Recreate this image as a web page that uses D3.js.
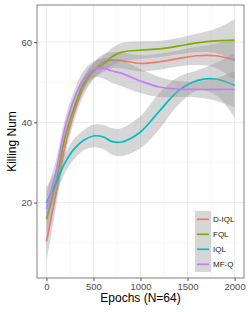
<!DOCTYPE html>
<meta charset="utf-8">
<head>
<style>
    body {margin: 0; background: #fff; font-family: "Liberation Sans", Arial, sans-serif;}
</style>
<script src="https://d3js.org/d3.v7.min.js"></script>
</head>
<body>
    <div id="chart"></div>
</body>
<script>
// data (smoothed fits and their standard errors)
var epochs = [0, 100, 200, 300, 400, 500, 600, 700, 800, 1000, 1200, 1400, 1600, 1800, 2000];
var seriesNames = ["D-IQL", "FQL", "IQL", "MF-Q"];
var seriesColors = ["#F8766D", "#7CAE00", "#00BFC4", "#C77CFF"];

var diql = [10.3, 21.9, 34.2, 42.8, 49, 52.8, 55, 55.5, 55.4, 54.7, 55.1, 55.9, 56.6, 56.6, 55.5];
var fql = [15.9, 25, 36.5, 44, 49.8, 52.8, 54.4, 56.4, 57.5, 58, 58.3, 59, 59.8, 60.3, 60.5];
var iql = [19.9, 24.8, 30, 33.5, 35.6, 36.6, 36.4, 35.2, 35.1, 37.6, 42.8, 47.8, 50.4, 50.8, 49.2];
var mfq = [18.4, 27.5, 38.8, 46.2, 51, 53.2, 53.5, 52.8, 52.2, 50.3, 48.8, 48.3, 48.2, 48.2, 48.25];

var diqlSe = [5.3, 3.2, 2.3, 2, 2, 2, 2, 2, 2, 2, 2, 2, 2.3, 3, 5];
var fqlSe = [4.2, 3, 2.3, 2, 2, 2, 2, 2.2, 2.3, 2.2, 2, 2, 2.3, 3, 5.2];
var iqlSe = [4, 3, 2.5, 2.5, 2.5, 2.8, 3, 3.3, 3.5, 4, 4.5, 3.5, 2.5, 4, 8];
var mfqSe = [4, 3, 2.3, 2, 2, 2, 2.5, 3, 3.2, 3, 2.5, 2, 2, 2.8, 4.5];

var xTicks = [0, 500, 1000, 1500, 2000];
var yTicks = [20, 40, 60];

var values = [diql, fql, iql, mfq];
var errors = [diqlSe, fqlSe, iqlSe, mfqSe];

var width = 249, height = 312;
var padLeft = 37, padRight = 244, padTop = 5, padBottom = 278;

var svg = d3.select("#chart").append("svg")
    .attr("width", width)
    .attr("height", height);

var x = d3.scaleLinear().domain([-100, 2100]).range([padLeft, padRight]);
var y = d3.scaleLinear().domain([1.2, 69.25]).range([padBottom, padTop]);

svg.append("rect")
    .attr("x", padLeft).attr("y", padTop)
    .attr("width", padRight - padLeft).attr("height", padBottom - padTop)
    .style("fill", "#fff");

// minor grid
var g = svg.append("g");
[250, 750, 1250, 1750].forEach(function(v) {
    g.append("line").attr("x1", x(v)).attr("x2", x(v)).attr("y1", padTop).attr("y2", padBottom)
        .style("stroke", "#f2f2f2").style("stroke-width", 0.6);
});
[10, 30, 50].forEach(function(v) {
    g.append("line").attr("y1", y(v)).attr("y2", y(v)).attr("x1", padLeft).attr("x2", padRight)
        .style("stroke", "#f2f2f2").style("stroke-width", 0.6);
});
xTicks.forEach(function(v) {
    g.append("line").attr("x1", x(v)).attr("x2", x(v)).attr("y1", padTop).attr("y2", padBottom)
        .style("stroke", "#ebebeb").style("stroke-width", 1);
});
yTicks.forEach(function(v) {
    g.append("line").attr("y1", y(v)).attr("y2", y(v)).attr("x1", padLeft).attr("x2", padRight)
        .style("stroke", "#ebebeb").style("stroke-width", 1);
});

var curve = d3.curveCatmullRom.alpha(0.5);

var area = d3.area()
    .x(function(d) { return x(d.e); })
    .y0(function(d) { return y(d.v - d.se); })
    .y1(function(d) { return y(d.v + d.se); })
    .curve(curve);

var line = d3.line()
    .x(function(d) { return x(d.e); })
    .y(function(d) { return y(d.v); })
    .curve(curve);

var plot = svg.append("g");
values.forEach(function(vals, i) {
    var pts = epochs.map(function(e, j) { return {e: e, v: vals[j], se: errors[i][j]}; });
    plot.append("path").datum(pts)
        .attr("d", area)
        .style("fill", "#999999")
        .style("fill-opacity", 0.4);
    plot.append("path").datum(pts)
        .attr("d", line)
        .style("fill", "none")
        .style("stroke", seriesColors[i])
        .style("stroke-width", 1.7);
});

// panel border
svg.append("rect")
    .attr("x", padLeft).attr("y", padTop)
    .attr("width", padRight - padLeft).attr("height", padBottom - padTop)
    .style("fill", "none")
    .style("stroke", "#8c8c8c")
    .style("stroke-width", 1.1);

// axes
var xAxis = svg.append("g")
    .attr("transform", "translate(0," + padBottom + ")")
    .call(d3.axisBottom(x).tickValues(xTicks).tickFormat(d3.format("d")).tickSize(3).tickPadding(2));
var yAxis = svg.append("g")
    .attr("transform", "translate(" + padLeft + ",0)")
    .call(d3.axisLeft(y).tickValues(yTicks).tickSize(3).tickPadding(2));

[xAxis, yAxis].forEach(function(a) {
    a.select(".domain").remove();
    a.selectAll(".tick line").style("stroke", "#555");
    a.selectAll(".tick text")
        .style("fill", "#4d4d4d")
        .style("font-size", "9.5px")
        .style("font-family", "Liberation Sans, Arial, sans-serif");
});

svg.append("text")
    .attr("x", (padLeft + padRight) / 2)
    .attr("y", 302)
    .attr("text-anchor", "middle")
    .style("font-size", "12px")
    .style("fill", "#000")
    .text("Epochs (N=64)");

svg.append("text")
    .attr("transform", "translate(16," + ((padTop + padBottom) / 2) + ") rotate(-90)")
    .attr("text-anchor", "middle")
    .style("font-size", "12px")
    .style("fill", "#000")
    .text("Killing Num");

// legend
var legend = svg.append("g").attr("transform", "translate(195,211)");
legend.append("rect")
    .attr("width", 16).attr("height", 61)
    .style("fill", "#d6d6d6");
seriesNames.forEach(function(name, i) {
    var cy = 8.3 + i * 15;
    legend.append("line")
        .attr("x1", 2).attr("x2", 14).attr("y1", cy).attr("y2", cy)
        .style("stroke", seriesColors[i])
        .style("stroke-width", 1.7);
    legend.append("text")
        .attr("x", 18).attr("y", cy + 3)
        .style("font-size", "8px")
        .style("fill", "#222")
        .text(name);
});
</script>
